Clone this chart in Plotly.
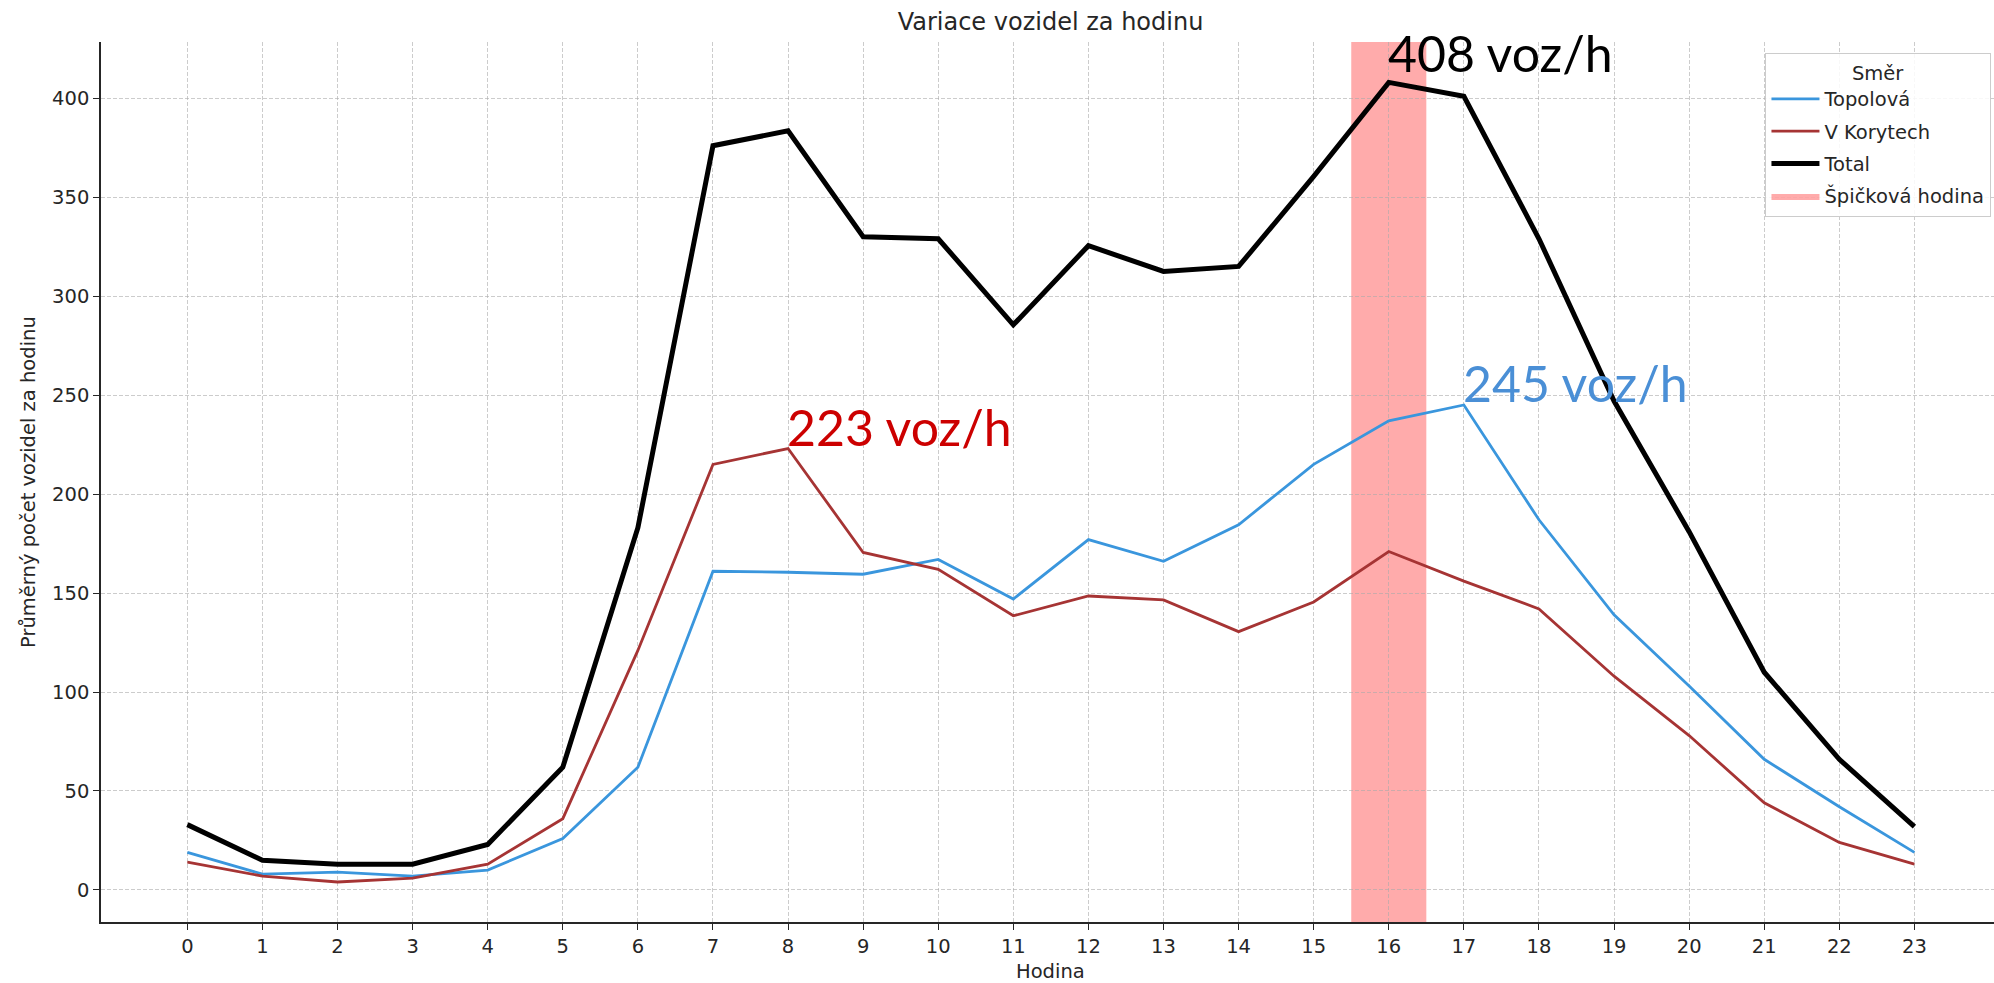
import plotly.graph_objects as go

# ---- data ----
hours = list(range(24))
topolova = [19, 8, 9, 7, 10, 26, 62, 161, 160.5, 159.5, 167, 147, 177, 166,
            184.5, 215, 237, 245, 187, 139, 103, 66, 42, 19]
v_korytech = [14, 7, 4, 6, 13, 36, 121, 215, 223, 170.5, 162, 138.5, 148.5,
              146.5, 130.5, 145.5, 171, 156, 142, 108, 78, 44, 24, 13]
total = [33, 15, 13, 13, 23, 62, 183, 376, 383.5, 330, 329, 285.5, 325.5,
         312.5, 315, 360.5, 408, 401, 329, 247, 181, 110, 66, 32]
series_names = ["Topolová", "V Korytech", "Total"]
peak_label = "Špičková hodina"
y_ticks = list(range(0, 401, 50))

# ---- styles ----
line_colors = ["#3a96dd", "#a63434", "#000000"]
line_widths = [2.8, 2.8, 5]
annot_colors = ["#4a8fd6", "#cc0000", "#000000"]
annot_yshift = [-10, -10, -3]
band_color = "rgba(255,0,0,0.33)"
TXT = "#262626"
FONT = "DejaVu Sans"
FS = 19.5

series = [topolova, v_korytech, total]

fig = go.Figure()
for name, vals, col, w in zip(series_names, series, line_colors, line_widths):
    fig.add_trace(go.Scatter(x=hours, y=vals, mode="lines", name=name,
                             legendgroup=name,
                             line=dict(color=col, width=w)))

# legend-only entry for the peak band
fig.add_trace(go.Scatter(x=[None], y=[None], mode="lines", fill="toself",
                         fillcolor=band_color, line=dict(width=0, color=band_color),
                         name=peak_label, legendgroup="peak", hoverinfo="skip"))

# peak hour band (from total max)
peak_idx = total.index(max(total))
peak_hour = hours[peak_idx]
fig.add_shape(type="rect", xref="x", yref="paper",
              x0=peak_hour - 0.5, x1=peak_hour + 0.5, y0=0, y1=1,
              fillcolor=band_color, line=dict(width=0), layer="below")

# peak annotations
for vals, col, ys in zip(series, annot_colors, annot_yshift):
    i = vals.index(max(vals))
    fig.add_annotation(x=hours[i], y=vals[i], text=f"{max(vals):.0f} voz/h",
                       xanchor="left", yanchor="bottom", showarrow=False,
                       yshift=ys, xshift=-3,
                       font=dict(family="Lato", size=50, color=col))

# axis titles as annotations (exact placement)
fig.add_annotation(xref="paper", yref="paper", x=0.5016, y=-0.05625,
                   text="Hodina", showarrow=False, xanchor="center", yanchor="middle",
                   font=dict(family=FONT, size=FS, color=TXT))
fig.add_annotation(xref="paper", yref="paper", x=-0.0386, y=0.5,
                   text="Průměrný počet vozidel za hodinu", textangle=-90,
                   showarrow=False, xanchor="center", yanchor="middle",
                   font=dict(family=FONT, size=FS, color=TXT))

grid = dict(showgrid=True, gridcolor="rgba(170,170,170,0.6)", gridwidth=1,
            griddash="4px,2px", zeroline=False, showline=True,
            linecolor=TXT, linewidth=1.5, ticks="outside", ticklen=6,
            tickwidth=1.3, tickcolor=TXT, automargin=False,
            tickfont=dict(family=FONT, size=FS, color=TXT), mirror=False)

fig.update_xaxes(range=[-1.15, 24.06], tickvals=hours,
                 ticktext=[str(h) for h in hours], **grid)
fig.update_yaxes(range=[-16.2, 428.4], tickvals=y_ticks, **grid)

fig.update_layout(
    width=1994, height=983, autosize=False,
    margin=dict(l=101, r=0, t=42, b=61, autoexpand=False),
    paper_bgcolor="white", plot_bgcolor="white",
    title=dict(text="Variace vozidel za hodinu", x=0.5016, xref="paper",
               xanchor="center", y=1 - 22 / 983, yref="container", yanchor="middle",
               font=dict(family=FONT, size=24, color=TXT)),
    font=dict(family=FONT, color=TXT),
    legend=dict(x=0.9985, y=0.9875, xanchor="right", yanchor="top",
                bgcolor="rgba(255,255,255,0.85)", bordercolor="#cccccc",
                borderwidth=1.3, tracegroupgap=4, itemwidth=48,
                font=dict(family=FONT, size=FS, color=TXT),
                title=dict(text="Směr", side="top center",
                           font=dict(family=FONT, size=FS, color=TXT))),
    showlegend=True,
)

fig.write_html("out.html", config={"displayModeBar": False},
               post_script="document.body.style.margin='0px';"
                           "document.body.style.overflow='hidden';")
